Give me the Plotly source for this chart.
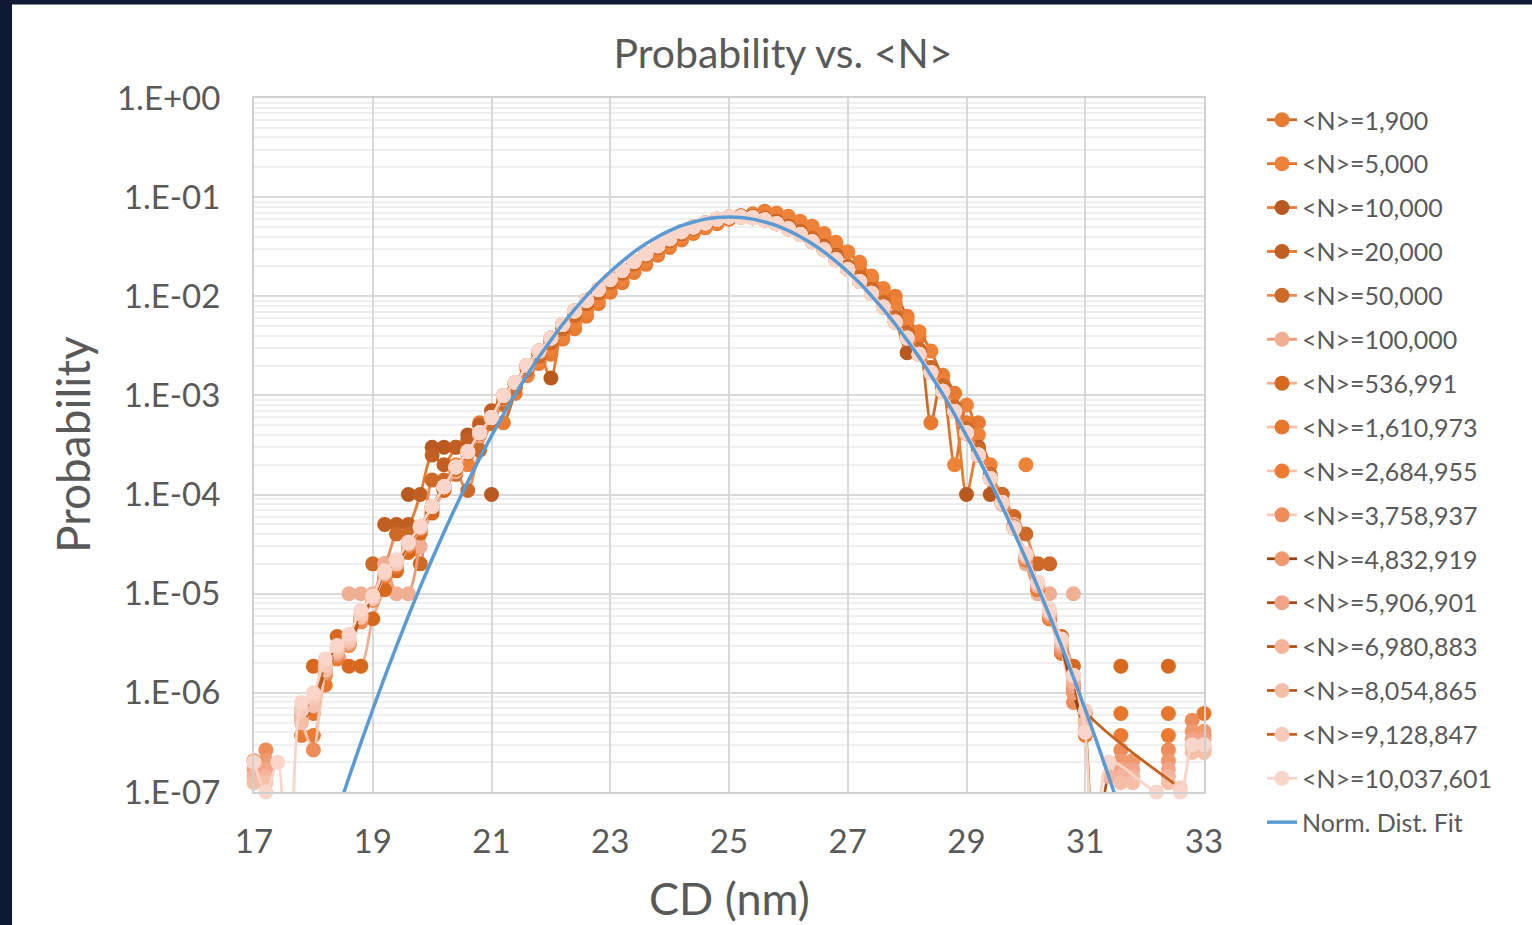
import plotly.graph_objects as go

# ---------------- data ----------------
X = [17.0, 17.2, 17.4, 17.6, 17.8, 18.0, 18.2, 18.4, 18.6, 18.8,
     19.0, 19.2, 19.4, 19.6, 19.8, 20.0, 20.2, 20.4, 20.6, 20.8,
     21.0, 21.2, 21.4, 21.6, 21.8, 22.0, 22.2, 22.4, 22.6, 22.8,
     23.0, 23.2, 23.4, 23.6, 23.8, 24.0, 24.2, 24.4, 24.6, 24.8,
     25.0, 25.2, 25.4, 25.6, 25.8, 26.0, 26.2, 26.4, 26.6, 26.8,
     27.0, 27.2, 27.4, 27.6, 27.8, 28.0, 28.2, 28.4, 28.6, 28.8,
     29.0, 29.2, 29.4, 29.6, 29.8, 30.0, 30.2, 30.4, 30.6, 30.8,
     31.0, 31.2, 31.4, 31.6, 31.8, 32.0, 32.2, 32.4, 32.6, 32.8,
     33.0]

_ = None
# each row = x.0, x.2, x.4, x.6, x.8 ; last single value = 33.0
N_1900 = [
    _, _, _, _, _,  _, _, _, _, _,  _, _, _, _, _,
    _, _, _, _, 5.3e-4,
    5.3e-4, 5.3e-4, 1.05e-3, 1.58e-3, 2.1e-3,
    2.6e-3, 3.7e-3, 4.7e-3, 6.3e-3, 8.4e-3,
    1.1e-2, 1.37e-2, 1.74e-2, 2.1e-2, 2.6e-2,
    3.1e-2, 3.7e-2, 4.3e-2, 4.9e-2, 5.4e-2,
    6.0e-2, 6.4e-2, 6.6e-2, 7.2e-2, 6.8e-2,
    6.2e-2, 5.6e-2, 5.1e-2, 4.1e-2, 3.3e-2,
    2.8e-2, 2.1e-2, 1.5e-2, 1.1e-2, 1.0e-2,
    6.3e-3, 3.9e-3, 5.3e-4, 1.6e-3, 1.05e-3,
    5.3e-4, 5.3e-4, _, _, _,
    _, _, _, _, _,  _, _, _, _, _,  _, _, _, _, _,  _]

N_5000 = [
    _, _, _, _, _,  _, _, _, _, _,  _, _, _, _, _,
    _, _, 2e-4, 2e-4, 4e-4,
    6e-4, 8e-4, 1.2e-3, 1.6e-3, 2.2e-3,
    3.0e-3, 4.0e-3, 5.4e-3, 7.0e-3, 9.2e-3,
    1.2e-2, 1.5e-2, 1.86e-2, 2.3e-2, 2.8e-2,
    3.3e-2, 3.9e-2, 4.5e-2, 5.0e-2, 5.6e-2,
    6.1e-2, 6.5e-2, 6.8e-2, 6.9e-2, 6.9e-2,
    6.4e-2, 5.7e-2, 5.0e-2, 4.3e-2, 3.5e-2,
    2.8e-2, 2.2e-2, 1.6e-2, 1.2e-2, 8.6e-3,
    5.8e-3, 4.4e-3, 2.8e-3, 1.4e-3, 2.0e-4,
    8e-4, 4e-4, 2e-4, _, _,
    2e-4, _, _, _, _,  _, _, _, _, _,  _, _, _, _, _,  _]

N_10000 = [
    _, _, _, _, _,  _, _, _, _, _,
    _, _, _, 1e-4, _,
    3e-4, 3e-4, 3e-4, 4e-4, _,
    1e-4, _, 1.3e-3, 2.0e-3, 2.6e-3,
    1.5e-3, 5.0e-3, 6.6e-3, 8.8e-3, 1.13e-2,
    1.43e-2, 1.77e-2, 2.18e-2, 2.62e-2, 3.15e-2,
    3.7e-2, 4.35e-2, 4.9e-2, 5.45e-2, 5.95e-2,
    6.25e-2, 6.35e-2, 6.3e-2, 6.05e-2, 5.6e-2,
    5.0e-2, 4.4e-2, 3.7e-2, 3.1e-2, 2.5e-2,
    1.95e-2, 1.5e-2, 1.15e-2, 8.4e-3, 5.9e-3,
    2.7e-3, 2.8e-3, 1.9e-3, 1.2e-3, 7e-4,
    1e-4, 3e-4, 1e-4, _, _,
    _, _, _, _, _,  _, _, _, _, _,  _, _, _, _, _,  _]

N_20000 = [
    _, _, _, _, _,  _, _, _, _, _,
    _, 5e-5, 5e-5, 5e-5, 1e-4,
    2.5e-4, 2e-4, 3e-4, 3.5e-4, 5e-4,
    7e-4, 1.0e-3, 1.3e-3, 1.85e-3, 2.6e-3,
    3.6e-3, 4.9e-3, 6.6e-3, 8.7e-3, 1.1e-2,
    1.42e-2, 1.75e-2, 2.15e-2, 2.6e-2, 3.1e-2,
    3.7e-2, 4.3e-2, 4.9e-2, 5.4e-2, 5.9e-2,
    6.2e-2, 6.4e-2, 6.3e-2, 6.1e-2, 5.7e-2,
    5.1e-2, 4.5e-2, 3.8e-2, 3.2e-2, 2.6e-2,
    2.0e-2, 1.55e-2, 1.17e-2, 8.6e-3, 6.1e-3,
    4.2e-3, 2.9e-3, 1.9e-3, 1.25e-3, 7.5e-4,
    4.5e-4, 3.0e-4, 1.5e-4, 1.0e-4, 5e-5,
    _, _, _, _, _,  _, _, _, _, _,  _, _, _, _, _,  _]

N_50000 = [
    _, _, _, _, _,  _, _, _, _, _,
    2e-5, 2e-5, 4e-5, 4e-5, 2e-5,
    1.4e-4, 1.4e-4, 1.6e-4, 1.1e-4, 2.8e-4,
    5.2e-4, 8.4e-4, 1.2e-3, 1.8e-3, 2.5e-3,
    3.4e-3, 4.7e-3, 6.4e-3, 8.4e-3, 1.08e-2,
    1.38e-2, 1.72e-2, 2.12e-2, 2.58e-2, 3.1e-2,
    3.65e-2, 4.3e-2, 4.85e-2, 5.4e-2, 5.9e-2,
    6.2e-2, 6.45e-2, 6.4e-2, 6.15e-2, 5.7e-2,
    5.1e-2, 4.5e-2, 3.8e-2, 3.15e-2, 2.55e-2,
    2.0e-2, 1.55e-2, 1.17e-2, 8.6e-3, 6.1e-3,
    4.3e-3, 2.9e-3, 1.9e-3, 1.24e-3, 7.6e-4,
    4.6e-4, 2.8e-4, 1.6e-4, 1.0e-4, 6e-5,
    4e-5, 2e-5, 2e-5, _, _,
    _, _, _, _, _,  _, _, _, _, _,  _]

N_100000 = [
    _, _, _, _, _,
    _, _, _, 1e-5, 1e-5,
    1e-5, 2e-5, 1e-5, 1e-5, 3e-5,
    7e-5, 1.1e-4, 1.7e-4, 2.6e-4, 4.0e-4,
    5.8e-4, 9.3e-4, 1.3e-3, 1.9e-3, 2.7e-3,
    3.7e-3, 5.1e-3, 7.0e-3, 9.0e-3, 1.16e-2,
    1.47e-2, 1.81e-2, 2.23e-2, 2.68e-2, 3.22e-2,
    3.8e-2, 4.45e-2, 5.0e-2, 5.5e-2, 6.0e-2,
    6.3e-2, 6.35e-2, 6.25e-2, 5.95e-2, 5.45e-2,
    4.85e-2, 4.25e-2, 3.6e-2, 2.98e-2, 2.37e-2,
    1.88e-2, 1.43e-2, 1.08e-2, 7.9e-3, 5.6e-3,
    3.85e-3, 2.6e-3, 1.7e-3, 1.1e-3, 7.0e-4,
    4.1e-4, 2.5e-4, 1.5e-4, 8e-5, 5e-5,
    2e-5, 1e-5, 1e-5, _, 1e-5,
    _, _, _, _, _,  _, _, _, _, _,  _]

N_536991 = [
    _, _, _, _, _,
    1.86e-6, 1.86e-6, 3.7e-6, 1.86e-6, 1.86e-6,
    5.6e-6, 1.1e-5, 1.7e-5, 2.6e-5, 4.1e-5,
    6.5e-5, 1.1e-4, 1.8e-4, 2.6e-4, 4.1e-4,
    5.8e-4, 9.5e-4, 1.3e-3, 1.9e-3, 2.7e-3,
    3.7e-3, 5.0e-3, 6.9e-3, 9.0e-3, 1.15e-2,
    1.46e-2, 1.8e-2, 2.22e-2, 2.67e-2, 3.2e-2,
    3.8e-2, 4.4e-2, 5.0e-2, 5.5e-2, 6.0e-2,
    6.3e-2, 6.4e-2, 6.3e-2, 6.0e-2, 5.5e-2,
    4.9e-2, 4.3e-2, 3.6e-2, 3.0e-2, 2.4e-2,
    1.9e-2, 1.45e-2, 1.1e-2, 8.0e-3, 5.6e-3,
    3.9e-3, 2.6e-3, 1.7e-3, 1.1e-3, 7.0e-4,
    4.3e-4, 2.5e-4, 1.5e-4, 8.4e-5, 4.7e-5,
    2.2e-5, 1.1e-5, 5.6e-6, 3.7e-6, 1.86e-6,
    _, _, _, 1.86e-6, _,
    _, _, 1.86e-6, _, _,
    _]

N_1610973 = [
    _, _, _, _, 6.2e-7,
    6.2e-7, 1.2e-6, 2.5e-6, 3.1e-6, 5.6e-6,
    8.7e-6, 1.5e-5, 1.9e-5, 3.1e-5, 4.6e-5,
    7.5e-5, 1.2e-4, 1.9e-4, 2.7e-4, 4.2e-4,
    6.0e-4, 1.0e-3, 1.35e-3, 2.0e-3, 2.8e-3,
    3.8e-3, 5.2e-3, 7.1e-3, 9.1e-3, 1.17e-2,
    1.48e-2, 1.82e-2, 2.24e-2, 2.69e-2, 3.24e-2,
    3.8e-2, 4.47e-2, 5.0e-2, 5.5e-2, 6.0e-2,
    6.3e-2, 6.3e-2, 6.2e-2, 5.9e-2, 5.4e-2,
    4.8e-2, 4.2e-2, 3.55e-2, 2.95e-2, 2.34e-2,
    1.86e-2, 1.41e-2, 1.07e-2, 7.8e-3, 5.5e-3,
    3.8e-3, 2.6e-3, 1.7e-3, 1.1e-3, 6.9e-4,
    4.2e-4, 2.5e-4, 1.45e-4, 8.3e-5, 4.6e-5,
    2.2e-5, 1.1e-5, 5.6e-6, 2.5e-6, 1.2e-6,
    6.2e-7, _, _, 6.2e-7, _,
    _, _, 6.2e-7, _, _,
    6.2e-7]

N_2684955 = [
    _, _, _, _, 3.72e-7,
    3.72e-7, 1.5e-6, 2.2e-6, 3.0e-6, 5.2e-6,
    8.6e-6, 1.5e-5, 1.9e-5, 3.0e-5, 4.5e-5,
    7.6e-5, 1.2e-4, 1.9e-4, 2.7e-4, 4.2e-4,
    6.0e-4, 1.0e-3, 1.35e-3, 2.0e-3, 2.8e-3,
    3.8e-3, 5.2e-3, 7.1e-3, 9.1e-3, 1.17e-2,
    1.48e-2, 1.82e-2, 2.24e-2, 2.69e-2, 3.24e-2,
    3.8e-2, 4.47e-2, 5.0e-2, 5.5e-2, 6.0e-2,
    6.3e-2, 6.3e-2, 6.2e-2, 5.9e-2, 5.4e-2,
    4.8e-2, 4.2e-2, 3.55e-2, 2.95e-2, 2.34e-2,
    1.86e-2, 1.41e-2, 1.07e-2, 7.8e-3, 5.5e-3,
    3.8e-3, 2.6e-3, 1.7e-3, 1.1e-3, 6.9e-4,
    4.2e-4, 2.5e-4, 1.45e-4, 8.3e-5, 4.6e-5,
    2.2e-5, 1.1e-5, 5.6e-6, 2.6e-6, 1.1e-6,
    3.72e-7, _, _, 3.72e-7, _,
    _, _, 3.72e-7, _, _,
    3.72e-7]

N_3758937 = [
    _, 2.66e-7, _, _, 5.3e-7,
    2.66e-7, 1.6e-6, 2.4e-6, 3.2e-6, 5.3e-6,
    8.8e-6, 1.55e-5, 2.0e-5, 3.1e-5, 4.6e-5,
    7.6e-5, 1.2e-4, 1.9e-4, 2.7e-4, 4.2e-4,
    6.0e-4, 1.0e-3, 1.35e-3, 2.0e-3, 2.8e-3,
    3.8e-3, 5.2e-3, 7.1e-3, 9.1e-3, 1.17e-2,
    1.48e-2, 1.82e-2, 2.24e-2, 2.69e-2, 3.24e-2,
    3.8e-2, 4.47e-2, 5.0e-2, 5.5e-2, 6.0e-2,
    6.3e-2, 6.3e-2, 6.2e-2, 5.9e-2, 5.4e-2,
    4.8e-2, 4.2e-2, 3.55e-2, 2.95e-2, 2.34e-2,
    1.86e-2, 1.41e-2, 1.07e-2, 7.8e-3, 5.5e-3,
    3.8e-3, 2.6e-3, 1.7e-3, 1.1e-3, 6.9e-4,
    4.2e-4, 2.5e-4, 1.45e-4, 8.3e-5, 4.6e-5,
    2.3e-5, 1.2e-5, 5.9e-6, 2.7e-6, 8.0e-7,
    5.3e-7, _, _, 2.66e-7, _,
    _, _, 2.66e-7, _, 5.3e-7,
    2.66e-7]

N_4832919 = [
    2.07e-7, 2.07e-7, _, _, 6.2e-7,
    8.3e-7, 1.6e-6, 2.5e-6, 3.1e-6, 5.8e-6,
    8.9e-6, 1.6e-5, 2.0e-5, 3.2e-5, 4.7e-5,
    7.6e-5, 1.2e-4, 1.9e-4, 2.7e-4, 4.2e-4,
    6.0e-4, 1.0e-3, 1.35e-3, 2.0e-3, 2.8e-3,
    3.8e-3, 5.2e-3, 7.1e-3, 9.1e-3, 1.17e-2,
    1.48e-2, 1.82e-2, 2.24e-2, 2.69e-2, 3.24e-2,
    3.8e-2, 4.47e-2, 5.0e-2, 5.5e-2, 6.0e-2,
    6.3e-2, 6.3e-2, 6.2e-2, 5.9e-2, 5.4e-2,
    4.8e-2, 4.2e-2, 3.55e-2, 2.95e-2, 2.34e-2,
    1.86e-2, 1.41e-2, 1.07e-2, 7.8e-3, 5.5e-3,
    3.8e-3, 2.6e-3, 1.7e-3, 1.1e-3, 6.9e-4,
    4.2e-4, 2.5e-4, 1.45e-4, 8.3e-5, 4.6e-5,
    2.3e-5, 1.2e-5, 6.2e-6, 2.9e-6, 1.0e-6,
    4.1e-7, _, _, 2.07e-7, 2.07e-7,
    _, _, 2.07e-7, _, 4.1e-7,
    4.1e-7]

N_5906901 = [
    1.69e-7, 1.69e-7, _, _, 6.8e-7,
    8.5e-7, 1.7e-6, 2.5e-6, 3.2e-6, 5.9e-6,
    9.0e-6, 1.6e-5, 2.0e-5, 3.2e-5, 4.7e-5,
    7.6e-5, 1.2e-4, 1.9e-4, 2.7e-4, 4.2e-4,
    6.0e-4, 1.0e-3, 1.35e-3, 2.0e-3, 2.8e-3,
    3.8e-3, 5.2e-3, 7.1e-3, 9.1e-3, 1.17e-2,
    1.48e-2, 1.82e-2, 2.24e-2, 2.69e-2, 3.24e-2,
    3.8e-2, 4.47e-2, 5.0e-2, 5.5e-2, 6.0e-2,
    6.3e-2, 6.3e-2, 6.2e-2, 5.9e-2, 5.4e-2,
    4.8e-2, 4.2e-2, 3.55e-2, 2.95e-2, 2.34e-2,
    1.86e-2, 1.41e-2, 1.07e-2, 7.8e-3, 5.5e-3,
    3.8e-3, 2.6e-3, 1.7e-3, 1.1e-3, 6.9e-4,
    4.2e-4, 2.5e-4, 1.45e-4, 8.3e-5, 4.6e-5,
    2.4e-5, 1.3e-5, 6.3e-6, 3.0e-6, 1.2e-6,
    5.1e-7, _, _, 1.69e-7, 1.69e-7,
    _, _, 1.69e-7, _, 3.4e-7,
    3.4e-7]

N_6980883 = [
    1.43e-7, 1.43e-7, _, _, 5.7e-7,
    8.6e-7, 1.7e-6, 2.6e-6, 3.4e-6, 6.0e-6,
    9.0e-6, 1.6e-5, 2.0e-5, 3.2e-5, 4.7e-5,
    7.6e-5, 1.2e-4, 1.9e-4, 2.7e-4, 4.2e-4,
    6.0e-4, 1.0e-3, 1.35e-3, 2.0e-3, 2.8e-3,
    3.8e-3, 5.2e-3, 7.1e-3, 9.1e-3, 1.17e-2,
    1.48e-2, 1.82e-2, 2.24e-2, 2.69e-2, 3.24e-2,
    3.8e-2, 4.47e-2, 5.0e-2, 5.5e-2, 6.0e-2,
    6.3e-2, 6.3e-2, 6.2e-2, 5.9e-2, 5.4e-2,
    4.8e-2, 4.2e-2, 3.55e-2, 2.95e-2, 2.34e-2,
    1.86e-2, 1.41e-2, 1.07e-2, 7.8e-3, 5.5e-3,
    3.8e-3, 2.6e-3, 1.7e-3, 1.1e-3, 6.9e-4,
    4.2e-4, 2.5e-4, 1.45e-4, 8.3e-5, 4.6e-5,
    2.5e-5, 1.2e-5, 6.4e-6, 3.3e-6, 1.3e-6,
    4.3e-7, 1e-9, 1.43e-7, 1.43e-7, 1.43e-7,
    _, _, 1.43e-7, _, 2.9e-7,
    2.9e-7]

N_8054865 = [
    1.24e-7, 1.24e-7, _, _, 5.0e-7,
    7.4e-7, 1.7e-6, 2.7e-6, 3.3e-6, 5.8e-6,
    8.9e-6, 1.6e-5, 2.0e-5, 3.2e-5, 4.7e-5,
    7.6e-5, 1.2e-4, 1.9e-4, 2.7e-4, 4.2e-4,
    6.0e-4, 1.0e-3, 1.35e-3, 2.0e-3, 2.8e-3,
    3.8e-3, 5.2e-3, 7.1e-3, 9.1e-3, 1.17e-2,
    1.48e-2, 1.82e-2, 2.24e-2, 2.69e-2, 3.24e-2,
    3.8e-2, 4.47e-2, 5.0e-2, 5.5e-2, 6.0e-2,
    6.3e-2, 6.3e-2, 6.2e-2, 5.9e-2, 5.4e-2,
    4.8e-2, 4.2e-2, 3.55e-2, 2.95e-2, 2.34e-2,
    1.86e-2, 1.41e-2, 1.07e-2, 7.8e-3, 5.5e-3,
    3.8e-3, 2.6e-3, 1.7e-3, 1.1e-3, 6.9e-4,
    4.2e-4, 2.5e-4, 1.45e-4, 8.3e-5, 4.6e-5,
    2.4e-5, 1.3e-5, 6.6e-6, 3.2e-6, 1.5e-6,
    5.0e-7, _, _, 1.24e-7, 1.24e-7,
    _, _, 1.24e-7, _, 2.5e-7,
    2.5e-7]

N_9128847 = [
    _, _, _, _, 6.6e-7,
    8.8e-7, 1.9e-6, 2.9e-6, 3.6e-6, 6.2e-6,
    9.2e-6, 1.65e-5, 2.1e-5, 3.3e-5, 4.8e-5,
    7.6e-5, 1.2e-4, 1.9e-4, 2.7e-4, 4.2e-4,
    6.0e-4, 1.0e-3, 1.35e-3, 2.0e-3, 2.8e-3,
    3.8e-3, 5.2e-3, 7.1e-3, 9.1e-3, 1.17e-2,
    1.48e-2, 1.82e-2, 2.24e-2, 2.69e-2, 3.24e-2,
    3.8e-2, 4.47e-2, 5.0e-2, 5.5e-2, 6.0e-2,
    6.3e-2, 6.3e-2, 6.2e-2, 5.9e-2, 5.4e-2,
    4.8e-2, 4.2e-2, 3.55e-2, 2.95e-2, 2.34e-2,
    1.86e-2, 1.41e-2, 1.07e-2, 7.8e-3, 5.5e-3,
    3.8e-3, 2.6e-3, 1.7e-3, 1.1e-3, 6.9e-4,
    4.2e-4, 2.5e-4, 1.45e-4, 8.3e-5, 4.6e-5,
    2.5e-5, 1.3e-5, 6.6e-6, 3.4e-6, 1.5e-6,
    6.6e-7, _, _, _, _,
    _, _, _, 1.1e-7, _,
    _]

N_10037601 = [
    2.0e-7, 1.0e-7, 2.0e-7, 1e-9, 8.0e-7,
    1.0e-6, 2.2e-6, 3.0e-6, 3.9e-6, 6.8e-6,
    9.5e-6, 1.7e-5, 2.2e-5, 3.3e-5, 4.8e-5,
    7.6e-5, 1.2e-4, 1.9e-4, 2.7e-4, 4.2e-4,
    6.0e-4, 1.0e-3, 1.35e-3, 2.0e-3, 2.8e-3,
    3.8e-3, 5.2e-3, 7.1e-3, 9.1e-3, 1.17e-2,
    1.48e-2, 1.82e-2, 2.24e-2, 2.69e-2, 3.24e-2,
    3.8e-2, 4.47e-2, 5.0e-2, 5.5e-2, 6.0e-2,
    6.3e-2, 6.3e-2, 6.2e-2, 5.9e-2, 5.4e-2,
    4.8e-2, 4.2e-2, 3.55e-2, 2.95e-2, 2.34e-2,
    1.86e-2, 1.41e-2, 1.07e-2, 7.8e-3, 5.5e-3,
    3.8e-3, 2.6e-3, 1.7e-3, 1.1e-3, 6.9e-4,
    4.2e-4, 2.5e-4, 1.45e-4, 8.3e-5, 4.6e-5,
    2.5e-5, 1.3e-5, 7.0e-6, 3.5e-6, 1.5e-6,
    4.0e-7, 1e-9, 2.0e-7, _, _,
    _, 1.0e-7, _, 1.0e-7, 3.0e-7,
    3.0e-7]

# Normal distribution fit, x = 18.2 ... 31.8
FIT_X = X[6:75]
FIT_P = [2.6e-8, 6.2e-8, 1.41e-7, 3.13e-7, 6.79e-7, 1.44e-6, 2.96e-6, 5.97e-6,
         1.17e-5, 2.24e-5, 4.17e-5, 7.59e-5, 1.34e-4, 2.32e-4, 3.91e-4, 6.41e-4,
         1.03e-3, 1.60e-3, 2.44e-3, 3.61e-3, 5.22e-3, 7.36e-3, 1.01e-2, 1.36e-2,
         1.77e-2, 2.25e-2, 2.80e-2, 3.39e-2, 3.99e-2, 4.59e-2, 5.15e-2, 5.62e-2,
         6.00e-2, 6.22e-2, 6.31e-2,
         6.22e-2, 6.00e-2, 5.62e-2, 5.15e-2, 4.59e-2, 3.99e-2, 3.39e-2, 2.80e-2,
         2.25e-2, 1.77e-2, 1.36e-2, 1.01e-2, 7.36e-3, 5.22e-3, 3.61e-3, 2.44e-3,
         1.60e-3, 1.03e-3, 6.41e-4, 3.91e-4, 2.32e-4, 1.34e-4, 7.59e-5, 4.17e-5,
         2.24e-5, 1.17e-5, 5.97e-6, 2.96e-6, 1.44e-6, 6.79e-7, 3.13e-7, 1.41e-7,
         6.2e-8, 2.6e-8]

SERIES_NAMES = ["&lt;N&gt;=1,900", "&lt;N&gt;=5,000", "&lt;N&gt;=10,000", "&lt;N&gt;=20,000",
                "&lt;N&gt;=50,000", "&lt;N&gt;=100,000", "&lt;N&gt;=536,991", "&lt;N&gt;=1,610,973",
                "&lt;N&gt;=2,684,955", "&lt;N&gt;=3,758,937", "&lt;N&gt;=4,832,919", "&lt;N&gt;=5,906,901",
                "&lt;N&gt;=6,980,883", "&lt;N&gt;=8,054,865", "&lt;N&gt;=9,128,847", "&lt;N&gt;=10,037,601"]
SERIES_VALUES = [N_1900, N_5000, N_10000, N_20000, N_50000, N_100000, N_536991, N_1610973,
                 N_2684955, N_3758937, N_4832919, N_5906901, N_6980883, N_8054865,
                 N_9128847, N_10037601]
LINE_COLORS = ["#cf6a26", "#e2732a", "#e97b32", "#e87a30", "#ef8c55", "#ef9a77", "#f2ae93", "#f6bfa9",
               "#f5c4b1", "#f7c9b8", "#924417", "#a24d19", "#ae531b", "#bb5a1d", "#c4621f", "#f8d4c6"]
MARKER_COLORS = ["#e97a31", "#ee8239", "#b85a20", "#c15f22", "#cd6a28", "#f0ae92", "#d7691f", "#e6772c",
                 "#ec7b31", "#ee8d5a", "#f0996e", "#f2a586", "#f4b39a", "#f5bfa8", "#f7cab9", "#f9d6c9"]
CONNECT = [False] * 14 + [True, True]

FONT = "Lato"
GREY = "#595959"

fig = go.Figure()
for name, vals, lc, mc, cg in zip(SERIES_NAMES, SERIES_VALUES, LINE_COLORS, MARKER_COLORS, CONNECT):
    fig.add_trace(go.Scatter(
        x=X, y=vals, name=name, mode="lines+markers", legendgroup=name,
        connectgaps=cg, cliponaxis=False,
        line=dict(color=lc, width=2.8, shape="spline", smoothing=0.8),
        marker=dict(color=mc, size=15, line=dict(width=0)),
        hoverinfo="skip"))

fig.add_trace(go.Scatter(
    x=FIT_X, y=FIT_P, name="Norm. Dist. Fit", mode="lines", legendgroup="fit",
    line=dict(color="#5b9bd5", width=3.5, shape="spline"), hoverinfo="skip"))

# geometry (pixels)
W, H = 1532, 925
L, R, T, B = 254, 1204, 98, 792
pw, ph = R - L, B - T

def px(xp):
    return (xp - L) / pw

def py(yp):
    return (B - yp) / ph

minor_vals = [m * 10.0 ** e for e in range(-7, 0) for m in range(2, 10)]

fig.update_layout(
    width=W, height=H,
    margin=dict(l=L, r=W - R, t=T, b=H - B, autoexpand=False),
    paper_bgcolor="white", plot_bgcolor="white",
    font=dict(family=FONT, color=GREY),
    title=dict(text="Probability vs. &lt;N&gt;", font=dict(size=41, color=GREY, family=FONT),
               xref="paper", x=px(783), xanchor="center",
               yref="container", y=1 - 54 / H, yanchor="middle"),
    xaxis=dict(range=[17, 33], tickmode="array", tickvals=[17, 19, 21, 23, 25, 27, 29, 31, 33],
               ticktext=["17", "19", "21", "23", "25", "27", "29", "31", "33"],
               showgrid=True, gridcolor="#d9d9d9", gridwidth=2,
               showline=True, linecolor="#d0d0d0", linewidth=2, mirror=True,
               zeroline=False, ticks="", tickfont=dict(size=33, color=GREY, family=FONT),
               ticklabelstandoff=19),
    yaxis=dict(type="log", range=[-7, 0], tickmode="array",
               tickvals=[1, 1e-1, 1e-2, 1e-3, 1e-4, 1e-5, 1e-6, 1e-7],
               ticktext=["1.E+00", "1.E-01", "1.E-02", "1.E-03", "1.E-04", "1.E-05", "1.E-06", "1.E-07"],
               showgrid=True, gridcolor="#d9d9d9", gridwidth=2,
               minor=dict(tickmode="array", tickvals=minor_vals, showgrid=True,
                          gridcolor="#efefef", gridwidth=2, ticks=""),
               showline=True, linecolor="#d0d0d0", linewidth=2, mirror=True,
               zeroline=False, ticks="", tickfont=dict(size=33, color=GREY, family=FONT),
               ticklabelstandoff=25),
    legend=dict(x=px(1262), xanchor="left", y=py(97), yanchor="top",
                font=dict(size=25, color=GREY, family=FONT), bgcolor="rgba(0,0,0,0)",
                tracegroupgap=8.4, itemclick=False, itemdoubleclick=False),
    showlegend=True,
    annotations=[
        dict(text="CD (nm)", xref="paper", yref="paper", x=px(729), y=py(898),
             xanchor="center", yanchor="middle", showarrow=False,
             font=dict(size=45, color=GREY, family=FONT)),
        dict(text="Probability", xref="paper", yref="paper", x=px(72), y=py(445),
             xanchor="center", yanchor="middle", showarrow=False, textangle=-90,
             font=dict(size=46, color=GREY, family=FONT)),
    ],
    shapes=[
        dict(type="rect", xref="paper", yref="paper", x0=px(0), x1=px(12), y0=py(H), y1=py(0),
             fillcolor="#0e1933", line=dict(width=0), layer="below"),
        dict(type="rect", xref="paper", yref="paper", x0=px(0), x1=px(W), y0=py(4.5), y1=py(0),
             fillcolor="#0e1933", line=dict(width=0), layer="below"),
    ],
)

# let the legend use the full figure height (supported in recent plotly versions)
try:
    fig.update_layout(legend_maxheight=900)
except Exception:
    pass

fig.write_html("out.html")
